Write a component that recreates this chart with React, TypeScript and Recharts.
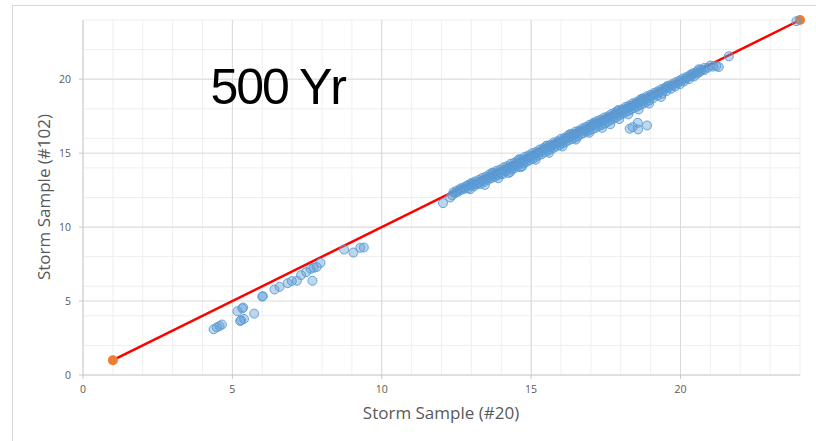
import React from 'react';
import { ScatterChart, Scatter, XAxis, YAxis, CartesianGrid, Label } from 'recharts';

const majorTicks = [0, 5, 10, 15, 20];
const minorTicks = [0, 1, 2, 3, 4, 5, 6, 7, 8, 9, 10, 11, 12, 13, 14, 15, 16, 17, 18, 19, 20, 21, 22, 23, 24];
const axisDomain = [0, 24];

const xTitle = 'Storm Sample (#20)';
const yTitle = 'Storm Sample (#102)';
const chartTitle = '500 Yr';

// 1:1 reference line endpoints
const refLine: [number, number][] = [[1, 1], [24, 24]];

const lowCluster: [number, number][] = [
  [4.37, 3.09], [4.48, 3.22], [4.57, 3.31], [4.65, 3.41], [5.17, 4.31], [5.33, 4.5], [5.36, 4.56],
  [5.26, 3.65], [5.29, 3.7], [5.39, 3.79], [5.73, 4.15], [6.0, 5.3], [6.02, 5.33], [6.41, 5.78],
  [6.58, 5.96], [6.85, 6.21], [6.99, 6.35], [7.16, 6.37], [7.68, 6.37], [7.3, 6.75], [7.47, 6.95],
  [7.62, 7.18], [7.72, 7.25], [7.82, 7.3], [7.95, 7.58], [8.74, 8.48], [9.05, 8.28], [9.28, 8.6], [9.4, 8.62],
];

const band: [number, number][] = [
  [12.05, 11.62], [12.29, 12.0], [12.36, 12.15], [12.45, 12.3], [12.55, 12.38], [12.62, 12.5], [12.7, 12.55],
  [12.78, 12.6], [12.85, 12.78], [12.9, 12.62], [12.96, 12.56], [13.02, 12.85], [13.08, 12.75], [13.12, 12.95],
  [13.18, 12.88], [13.25, 13.0], [13.3, 12.92], [13.36, 13.15], [13.42, 13.05], [13.48, 13.25], [13.55, 13.18],
  [13.6, 13.38], [13.66, 13.3], [13.72, 13.45], [13.78, 13.38], [13.82, 13.6], [13.88, 13.5], [13.94, 13.7],
  [14.0, 13.62], [14.05, 13.58], [14.1, 13.85], [14.15, 13.75], [14.2, 13.95], [14.24, 13.66], [14.3, 14.02],
  [14.35, 13.9], [14.4, 14.15], [14.45, 13.98], [14.5, 14.25], [14.55, 14.1], [14.6, 14.35], [14.64, 14.05],
  [14.7, 14.42], [14.75, 14.3], [14.8, 14.55], [14.85, 14.4], [14.9, 14.68], [14.95, 14.52], [15.0, 14.78],
  [15.05, 14.6], [15.1, 14.88], [15.14, 14.72], [15.2, 15.0], [15.25, 14.85], [15.3, 15.08], [15.35, 14.92],
  [15.4, 15.2], [15.45, 15.05], [15.5, 15.3], [15.55, 15.15], [15.6, 15.4], [15.65, 15.25], [15.7, 15.5],
  [15.75, 15.35], [15.8, 15.6], [15.85, 15.45], [15.9, 15.72], [15.95, 15.55], [16.0, 15.8], [16.05, 15.65],
  [16.1, 15.9], [16.15, 15.75], [16.2, 16.0], [16.25, 15.85], [16.3, 16.1], [16.35, 15.95], [16.4, 16.2],
  [16.45, 16.02], [16.5, 16.3], [16.55, 16.12], [16.6, 16.42], [16.65, 16.25], [16.7, 16.52], [16.75, 16.35],
  [16.8, 16.6], [16.85, 16.45], [16.9, 16.7], [16.95, 16.52], [17.0, 16.8], [17.05, 16.62], [17.1, 16.9],
  [17.15, 16.7], [17.2, 17.0], [17.25, 16.82], [17.3, 17.1], [17.35, 16.9], [17.4, 17.2], [17.45, 17.0],
  [17.5, 17.3], [17.55, 17.1], [17.6, 17.4], [17.65, 17.22], [17.7, 17.5], [17.75, 17.32], [17.8, 17.62],
  [17.85, 17.42], [17.9, 17.72], [17.95, 17.55], [18.0, 17.8], [18.05, 17.65], [18.1, 17.92], [18.15, 17.75],
  [18.2, 18.02], [18.25, 17.85], [18.3, 18.12], [18.35, 17.95], [18.4, 18.22], [18.45, 18.05], [18.5, 18.32],
  [18.55, 18.15], [18.6, 18.42], [18.65, 18.25], [18.7, 18.52], [18.75, 18.35], [18.8, 18.62], [18.85, 18.45],
  [18.9, 18.72], [18.95, 18.55], [19.0, 18.82], [19.08, 18.7], [19.15, 18.98], [19.22, 18.88], [19.3, 19.12],
  [19.38, 19.02], [19.45, 19.28], [19.52, 19.18], [19.6, 19.42], [19.68, 19.35], [19.75, 19.58], [19.82, 19.5],
  [19.9, 19.72], [19.98, 19.66], [20.05, 19.9], [20.12, 19.85], [20.2, 20.05], [20.28, 20.0], [20.36, 20.2],
  [20.45, 20.18], [20.55, 20.38], [20.62, 20.45], [20.7, 20.58], [20.8, 20.62], [20.92, 20.78], [21.0, 20.92],
  [21.1, 20.85], [21.2, 20.88], [21.28, 20.82], [21.62, 21.55], [23.88, 23.92],
  [13.45, 12.85], [13.9, 13.3], [14.3, 13.72], [14.7, 14.1], [15.15, 14.55], [15.6, 15.02], [16.05, 15.45],
  [16.5, 15.92], [16.95, 16.38], [17.38, 16.71], [17.65, 16.95], [17.95, 17.3], [18.25, 17.62], [18.6, 17.95],
  [18.95, 18.35], [19.35, 18.8],
  [13.0, 12.98], [13.7, 13.68], [14.6, 14.58], [15.5, 15.48], [16.3, 16.28], [17.1, 17.06], [17.9, 17.88],
  [18.7, 18.68], [19.55, 19.52], [20.4, 20.38],
];

const bandUpper: [number, number][] = [
  [12.4, 12.36], [12.52, 12.47], [12.64, 12.62], [12.76, 12.7], [12.88, 12.84], [13.0, 12.93], [13.12, 13.08],
  [13.24, 13.18], [13.36, 13.32], [13.48, 13.4], [13.6, 13.56], [13.72, 13.66], [13.84, 13.8], [13.96, 13.88],
  [14.08, 14.04], [14.2, 14.12], [14.32, 14.28], [14.44, 14.36], [14.56, 14.52], [14.68, 14.6], [14.8, 14.76],
  [14.92, 14.85], [15.04, 15.0], [15.16, 15.08], [15.28, 15.24], [15.4, 15.32], [15.52, 15.5], [15.64, 15.56],
  [15.76, 15.72], [15.88, 15.8], [16.0, 15.97], [16.12, 16.04], [16.24, 16.2], [16.36, 16.3], [16.48, 16.45],
  [16.6, 16.52], [16.72, 16.68], [16.84, 16.78], [16.96, 16.92], [17.08, 17.0], [17.2, 17.16], [17.32, 17.26],
  [17.44, 17.4], [17.56, 17.48], [17.68, 17.64], [17.8, 17.74], [17.92, 17.9], [18.04, 17.96], [18.16, 18.12],
  [18.28, 18.22], [18.4, 18.37], [18.52, 18.44], [18.64, 18.6], [18.76, 18.7], [18.88, 18.85], [19.0, 18.94],
  [19.12, 19.08], [19.24, 19.18], [19.36, 19.33], [19.48, 19.42], [19.6, 19.56], [19.72, 19.66], [19.84, 19.8],
  [19.96, 19.9], [20.08, 20.05], [20.2, 20.14], [20.32, 20.28], [20.44, 20.4], [20.56, 20.52], [20.61, 20.67],
  [20.68, 20.64], [20.8, 20.76],
];

const outliers: [number, number][] = [
  [18.3, 16.65], [18.4, 16.76], [18.57, 17.05], [18.58, 16.6], [18.88, 16.87],
];

const toXY = (arr: [number, number][]) => arr.map(([x, y]) => ({ x, y }));
const lineData = toXY(refLine);
const blueData = toXY([...lowCluster, ...band, ...bandUpper, ...outliers]);

const tickStyle = { fill: '#595959', fontSize: 10.5, fontFamily: "'Open Sans', sans-serif" };
const titleFont = "'Open Sans', sans-serif";

const BlueDot = (props: any) => (
  <circle cx={props.cx} cy={props.cy} r={4.5} fill="#5b9bd5" fillOpacity={0.4} stroke="#5b9bd5" strokeOpacity={0.9} strokeWidth={1} />
);
const OrangeDot = (props: any) => (
  <circle cx={props.cx} cy={props.cy} r={5} fill="#ed7d31" />
);

export default function App() {
  return (
    <div style={{ position: 'absolute', left: 0, top: 0, width: 816, height: 441, background: '#fff', overflow: 'hidden' }}>
      <div style={{ position: 'absolute', left: 12, top: 5, width: 830, height: 460, border: '1px solid #d9d9d9', boxSizing: 'border-box' }} />
      <div style={{ position: 'absolute', left: 0, top: 0 }}>
        <ScatterChart width={816} height={441} margin={{ top: 20, right: 16, left: 0, bottom: 0 }}>
          <CartesianGrid stroke="#efefef" horizontalValues={minorTicks} verticalValues={minorTicks} />
          <CartesianGrid stroke="#d9d9d9" horizontalValues={majorTicks.filter((v) => v > 0)} verticalValues={majorTicks.filter((v) => v > 0)} />
          <XAxis
            type="number"
            dataKey="x"
            domain={axisDomain}
            ticks={majorTicks}
            height={66}
            stroke="#c8c8c8"
            tickSize={4}
            tickMargin={7}
            tick={tickStyle}
          >
            <Label
              content={() => (
                <text x={441} y={419} textAnchor="middle" fontSize={17} fontFamily={titleFont} fill="#595959">{xTitle}</text>
              )}
            />
          </XAxis>
          <YAxis
            type="number"
            dataKey="y"
            domain={axisDomain}
            ticks={majorTicks}
            width={83}
            stroke="#c8c8c8"
            tickSize={4}
            tickMargin={8}
            tick={tickStyle}
          >
            <Label
              content={() => (
                <text x={50} y={197} transform="rotate(-90,50,197)" textAnchor="middle" fontSize={17} fontFamily={titleFont} fill="#595959">{yTitle}</text>
              )}
            />
          </YAxis>
          <Scatter data={lineData} line={{ stroke: '#ff0000', strokeWidth: 2.5 }} shape={OrangeDot} isAnimationActive={false} />
          <Scatter data={blueData} shape={BlueDot} isAnimationActive={false} />
        </ScatterChart>
      </div>
      <svg width={816} height={441} style={{ position: 'absolute', left: 0, top: 0, pointerEvents: 'none' }}>
        <text x={210.5} y={104} fontSize={50} letterSpacing={-2} fontFamily="'Liberation Sans', Arial, sans-serif" fill="#000">{chartTitle}</text>
      </svg>
    </div>
  );
}
